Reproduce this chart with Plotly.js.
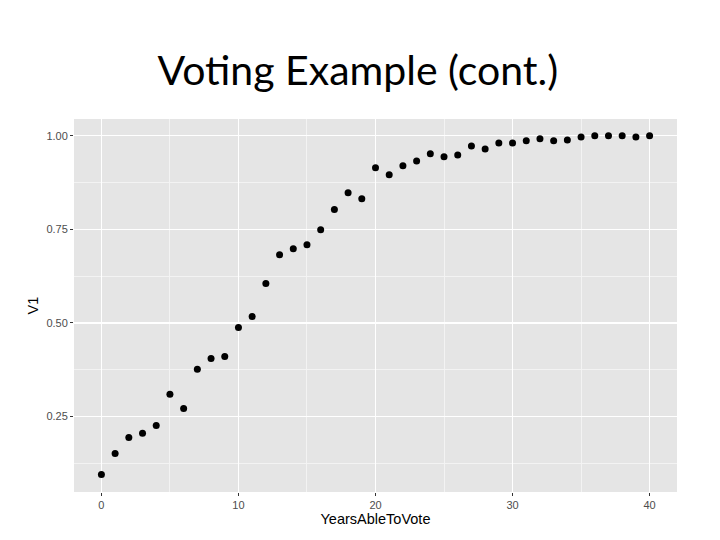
<!DOCTYPE html>
<html>
<head>
<meta charset="utf-8">
<script src="https://cdn.plot.ly/plotly-3.0.1.min.js"></script>
<style>
  html, body { margin: 0; padding: 0; background: #fff; }
  #chart { width: 720px; height: 540px; }
</style>
</head>
<body>
<div id="chart"></div>
<script>
// values
const yearsAbleToVote = [
  0, 1, 2, 3, 4, 5, 6, 7, 8, 9,
  10, 11, 12, 13, 14, 15, 16, 17, 18, 19,
  20, 21, 22, 23, 24, 25, 26, 27, 28, 29,
  30, 31, 32, 33, 34, 35, 36, 37, 38, 39, 40
];
const v1 = [
  0.095, 0.151, 0.194, 0.205, 0.226, 0.309, 0.271, 0.376, 0.405, 0.410,
  0.488, 0.517, 0.605, 0.682, 0.698, 0.709, 0.749, 0.803, 0.848, 0.832,
  0.915, 0.896, 0.920, 0.933, 0.952, 0.944, 0.949, 0.973, 0.965, 0.981,
  0.981, 0.987, 0.992, 0.987, 0.989, 0.997, 1.000, 1.000, 1.000, 0.997, 1.000
];
const yTickVals = [0.25, 0.5, 0.75, 1.0];
const yTickText = ["0.25", "0.50", "0.75", "1.00"];
const yMinorVals = [0.125, 0.375, 0.625, 0.875];

const trace = {
  x: yearsAbleToVote,
  y: v1,
  type: "scatter",
  mode: "markers",
  marker: { color: "#000000", size: 7 },
  hoverinfo: "x+y",
};

const tickFont = { family: "Liberation Sans, Arial, sans-serif", size: 11, color: "#4d4d4d" };
const titleFont = { family: "Liberation Sans, Arial, sans-serif", size: 14.5, color: "#000000" };

const layout = {
  width: 720,
  height: 540,
  margin: { l: 74, r: 43, t: 119, b: 48 },
  paper_bgcolor: "#ffffff",
  plot_bgcolor: "#e5e5e5",
  showlegend: false,
  title: {
    text: "Voting Example (cont.)",
    font: { family: "Lato, 'Open Sans', sans-serif", size: 41, color: "#000000" },
    x: 0.497,
    xanchor: "center",
    y: 0.87,
    yanchor: "middle",
  },
  xaxis: {
    range: [-2, 42],
    tickmode: "linear",
    tick0: 0,
    dtick: 10,
    showgrid: true,
    gridcolor: "#ffffff",
    gridwidth: 1.3,
    zeroline: false,
    showline: false,
    ticks: "outside",
    ticklen: 3,
    tickwidth: 1,
    tickcolor: "#333333",
    tickfont: tickFont,
    minor: { dtick: 5, showgrid: true, gridcolor: "#f4f4f4", gridwidth: 0.9, ticks: "" },
    title: { text: "YearsAbleToVote", font: titleFont, standoff: 3 },
  },
  yaxis: {
    range: [0.048, 1.045],
    tickmode: "array",
    tickvals: yTickVals,
    ticktext: yTickText,
    showgrid: true,
    gridcolor: "#ffffff",
    gridwidth: 1.3,
    zeroline: false,
    showline: false,
    ticks: "outside",
    ticklen: 3,
    tickwidth: 1,
    tickcolor: "#333333",
    tickfont: tickFont,
    minor: { tickvals: yMinorVals, showgrid: true, gridcolor: "#f4f4f4", gridwidth: 0.9, ticks: "" },
    title: { text: "V1", font: titleFont, standoff: 4 },
  },
};

Plotly.newPlot("chart", [trace], layout, { displayModeBar: false, staticPlot: true });
</script>
</body>
</html>
